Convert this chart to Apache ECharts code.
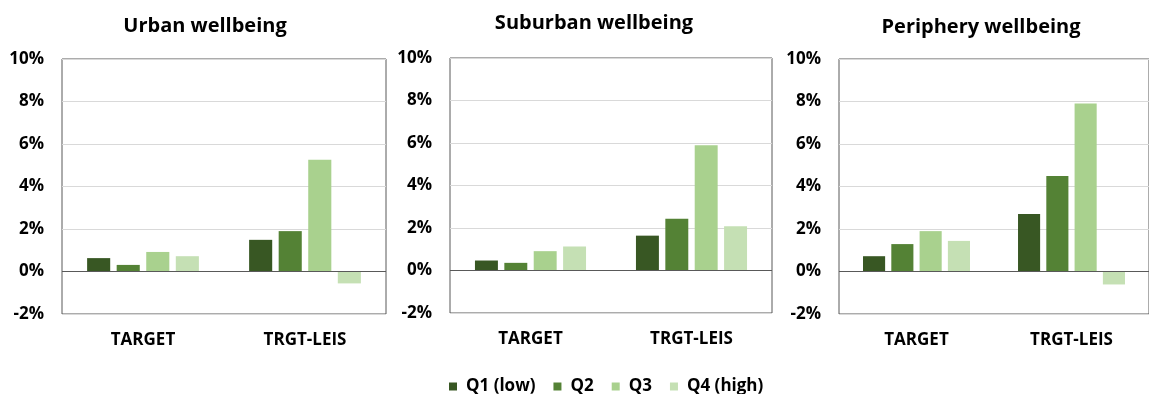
<!DOCTYPE html>
<html>
<head>
<meta charset="utf-8">
<script src="https://cdn.jsdelivr.net/npm/echarts@6/dist/echarts.min.js"></script>
<style>
  html, body { margin: 0; padding: 0; background: #ffffff; }
  #chart { width: 1149px; height: 394px; }
</style>
</head>
<body>
<div id="chart"></div>
<script>
// Wellbeing change by income quartile, in percent
const categories = ['TARGET', 'TRGT-LEIS'];
const quartiles = ['Q1 (low)', 'Q2', 'Q3', 'Q4 (high)'];
const panelTitles = ['Urban wellbeing', 'Suburban wellbeing', 'Periphery wellbeing'];
const yTicks = { min: -2, max: 10, interval: 2 };

// Values per quartile: [TARGET, TRGT-LEIS]
const urbanQ1 = [0.63, 1.49];
const urbanQ2 = [0.31, 1.90];
const urbanQ3 = [0.92, 5.26];
const urbanQ4 = [0.72, -0.56];

const suburbanQ1 = [0.47, 1.64];
const suburbanQ2 = [0.36, 2.44];
const suburbanQ3 = [0.91, 5.90];
const suburbanQ4 = [1.13, 2.08];

const peripheryQ1 = [0.72, 2.71];
const peripheryQ2 = [1.29, 4.50];
const peripheryQ3 = [1.90, 7.91];
const peripheryQ4 = [1.44, -0.61];

const panelData = [
  [urbanQ1, urbanQ2, urbanQ3, urbanQ4],
  [suburbanQ1, suburbanQ2, suburbanQ3, suburbanQ4],
  [peripheryQ1, peripheryQ2, peripheryQ3, peripheryQ4]
];

const colors = ['#385723', '#548235', '#A9D18E', '#C5E0B4'];
const FONT = '"Open Sans", Lato, sans-serif';

// Panel placement
const grids = [
  { left: 62, top: 59, width: 324, height: 255 },
  { left: 450, top: 58, width: 322, height: 255 },
  { left: 839, top: 59, width: 324, height: 255 }
];
const titlePos = [
  { x: 200, y: 11 },
  { x: 589, y: 8 },
  { x: 976, y: 12 }
];

const option = {
  animation: false,
  backgroundColor: '#ffffff',
  color: colors,
  textStyle: { fontFamily: FONT },
  title: panelTitles.map((t, i) => ({
    text: t,
    left: titlePos[i].x,
    top: titlePos[i].y,
    textAlign: 'center',
    textStyle: { fontFamily: FONT, fontSize: 20, fontWeight: 'bold', color: '#000000' }
  })),
  legend: {
    data: quartiles,
    left: 444,
    top: 373,
    itemWidth: 8,
    itemHeight: 8,
    itemGap: 18,
    icon: 'rect',
    textStyle: { fontFamily: FONT, fontSize: 17, fontWeight: 'bold', color: '#000000', padding: [0, 0, 0, 4] }
  },
  grid: grids.map(g => ({
    left: g.left, top: g.top, width: g.width, height: g.height,
    show: true, borderColor: '#595959', borderWidth: 1, backgroundColor: 'transparent'
  })),
  xAxis: grids.map((g, i) => ({
    type: 'category',
    gridIndex: i,
    data: categories,
    axisLine: { show: false, onZero: false },
    axisTick: { show: false },
    axisLabel: { margin: 18, fontFamily: FONT, fontSize: 17, fontWeight: 'bold', color: '#000000' }
  })),
  yAxis: grids.map((g, i) => ({
    type: 'value',
    gridIndex: i,
    min: yTicks.min,
    max: yTicks.max,
    interval: yTicks.interval,
    axisLine: { show: false },
    axisTick: { show: false },
    splitLine: { lineStyle: { color: '#D9D9D9', width: 1 } },
    axisLabel: {
      margin: 18,
      formatter: '{value}%',
      fontFamily: FONT, fontSize: 17, fontWeight: 'bold', color: '#000000'
    }
  })),
  series: []
};

panelData.forEach((panel, p) => {
  panel.forEach((vals, q) => {
    const s = {
      type: 'bar',
      name: quartiles[q],
      xAxisIndex: p,
      yAxisIndex: p,
      data: vals,
      barGap: '28%',
      barCategoryGap: '31%',
      itemStyle: { color: colors[q] }
    };
    if (q === 0) {
      // zero baseline across the panel
      s.markLine = {
        silent: true,
        symbol: 'none',
        label: { show: false },
        lineStyle: { color: '#595959', width: 1, type: 'solid' },
        data: [{ yAxis: 0 }]
      };
    }
    option.series.push(s);
  });
});

const chart = echarts.init(document.getElementById('chart'), null, { renderer: 'canvas' });
chart.setOption(option);
</script>
</body>
</html>
